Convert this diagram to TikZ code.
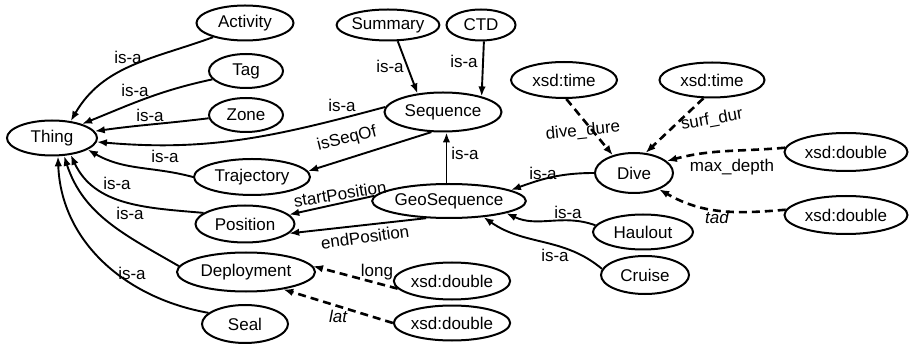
\documentclass[tikz,border=0pt]{standalone}
\usepackage{fontspec}
\setmainfont{Liberation Sans}
\usetikzlibrary{shapes.geometric,arrows.meta}
\begin{document}
\begin{tikzpicture}[x=1pt,y=1pt,
  cls/.style={ellipse,draw,line width=2pt,inner sep=0pt,font=\fontsize{17}{20}\selectfont},
  rel/.style={line width=1.9pt,-{Latex[length=10pt,width=7.5pt]}},
  prop/.style={line width=2.6pt,dash pattern=on 8pt off 5pt,-{Latex[length=10pt,width=7.5pt]}},
  lab/.style={font=\fontsize{17}{20}\selectfont,inner sep=0pt},
  ilab/.style={font=\fontsize{17}{20}\selectfont\itshape,inner sep=0pt}]
\useasboundingbox (0,0) rectangle (909,-344);
% nodes
\node[cls,minimum width=90pt,minimum height=35pt] (thing) at (52,-138) {Thing};
\node[cls,minimum width=97pt,minimum height=35pt] (activity) at (245,-23) {Activity};
\node[cls,minimum width=74pt,minimum height=34pt] (tag) at (246,-71) {Tag};
\node[cls,minimum width=74pt,minimum height=34pt] (zone) at (246,-115) {Zone};
\node[cls,minimum width=116pt,minimum height=36pt] (traj) at (252,-177) {Trajectory};
\node[cls,minimum width=99pt,minimum height=37pt] (pos) at (245,-224) {Position};
\node[cls,minimum width=138pt,minimum height=39pt] (dep) at (246,-272) {Deployment};
\node[cls,minimum width=86pt,minimum height=38pt] (seal) at (245,-324) {Seal};
\node[cls,minimum width=90pt,minimum height=31pt] (summary) at (388,-25) {Summary};
\node[cls,minimum width=69pt,minimum height=31pt] (ctd) at (481,-25) {CTD};
\node[cls,minimum width=117pt,minimum height=39pt] (seq) at (443,-112) {Sequence};
\node[cls,minimum width=106pt,minimum height=36pt] (time1) at (564,-80) {xsd:time};
\node[cls,minimum width=105pt,minimum height=35pt] (time2) at (712,-80) {xsd:time};
\node[cls,minimum width=127pt,minimum height=34pt] (geo) at (449,-201) {GeoSequence};
\node[cls,minimum width=105pt,minimum height=37pt] (dbl1) at (452,-281) {xsd:double};
\node[cls,minimum width=105pt,minimum height=35pt] (dbl2) at (452,-323) {xsd:double};
\node[cls,minimum width=78pt,minimum height=40pt] (dive) at (634,-173) {Dive};
\node[cls,minimum width=123pt,minimum height=38pt] (dbl3) at (846,-152) {xsd:double};
\node[cls,minimum width=123pt,minimum height=38pt] (dbl4) at (846,-215) {xsd:double};
\node[cls,minimum width=100pt,minimum height=35pt] (haul) at (643,-232) {Haulout};
\node[cls,minimum width=88pt,minimum height=38pt] (cruise) at (645,-275) {Cruise};
% is-a to Thing
\draw[rel] (activity.204) to[out=200,in=60] (thing.42) node[lab] at (128,-57) {is-a};
\draw[rel] (tag.194) to[out=192,in=22] (thing.25) node[lab] at (135,-90) {is-a};
\draw[rel] (zone.185) to[out=187,in=8] (thing.9) node[lab] at (150,-115) {is-a};
\draw[rel] (seq.175) to[out=195,in=-5] (thing.-5) node[lab] at (342,-105) {is-a};
\draw[rel] (traj.180) to[out=165,in=-30] (thing.-18) node[lab] at (165,-156) {is-a};
\draw[rel] (pos.165) to[out=175,in=-65] (thing.-42) node[lab] at (117,-183) {is-a};
\draw[rel] (dep.175) to[out=150,in=-72] (thing.-56) node[lab] at (130,-213) {is-a};
\draw[rel] (seal.163) to[out=170,in=-88] (thing.-72) node[lab] at (132,-273) {is-a};
% sequence part
\draw[rel] (summary.-59) -- (seq.144) node[lab] at (390,-66) {is-a};
\draw[rel] (ctd.-80) -- (seq.22) node[lab] at (464,-61) {is-a};
\draw[rel] (seq.-120) -- (traj.6) node[lab,rotate=14] at (347,-139) {isSeqOf};
\draw[rel] (geo.98) -- (geo.98 |- seq.south) node[lab] at (465,-153) {is-a};
\draw[rel] (geo.176) -- (pos.12) node[lab,rotate=9] at (340,-194) {startPosition};
\draw[rel] (geo.217) -- (pos.-12) node[lab,rotate=8] at (365,-237) {endPosition};
\draw[rel] (dive.180) to[out=180,in=20] (geo.10) node[lab] at (543,-173) {is-a};
\draw[rel] (haul.172) to[out=160,in=-25] (geo.-12) node[lab] at (568,-212) {is-a};
\draw[rel] (cruise.172) to[out=140,in=-35] (geo.-25) node[lab] at (555,-255) {is-a};
% datatype properties
\draw[prop] (dbl1.188) -- (dep.5) node[lab] at (377,-272) {long};
\draw[prop] (dbl2.180) -- (dep.-25) node[ilab] at (338,-316) {lat};
\draw[prop] (time1.-83) -- (dive.140) node[lab,rotate=6] at (583,-131) {dive\_dure};
\draw[prop] (time2.-115) -- (dive.60) node[lab,rotate=10] at (712,-120) {surf\_dur};
\draw[prop] (dbl3.176) to[out=185,in=15] (dive.20) node[lab] at (732,-167) {max\_depth};
\draw[prop] (dbl4.175) to[out=185,in=-30] (dive.-33) node[ilab] at (717,-217) {tad};
\end{tikzpicture}
\end{document}
